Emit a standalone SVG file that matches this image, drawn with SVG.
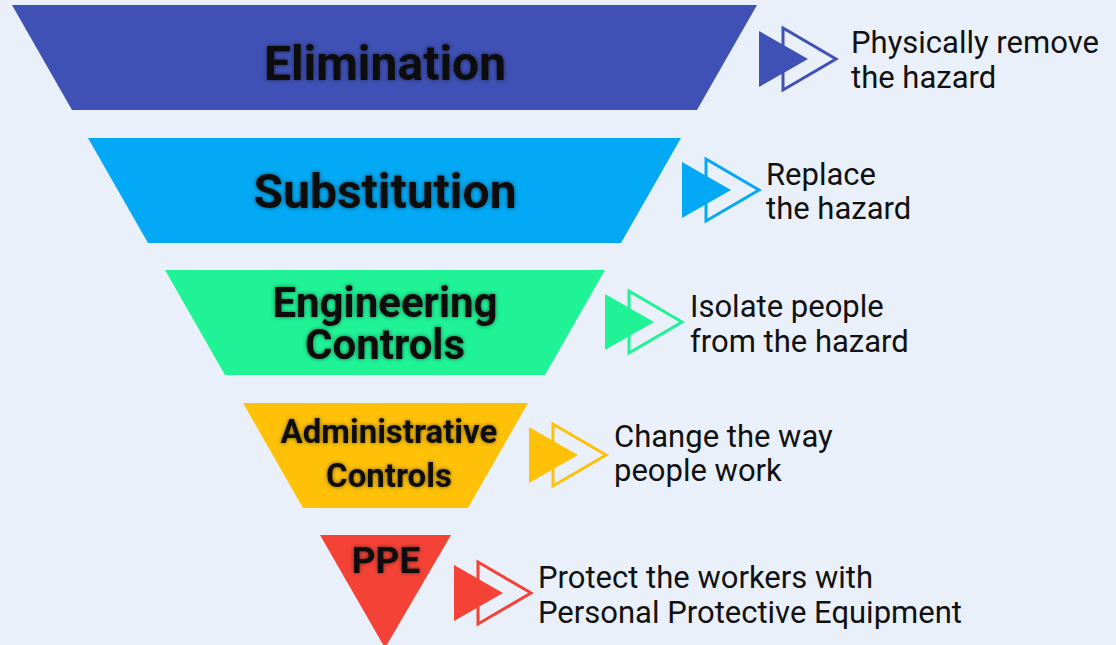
<svg xmlns="http://www.w3.org/2000/svg" width="1116" height="645" viewBox="0 0 1116 645">
  <defs>
    <filter id="glow" x="-10%" y="-30%" width="120%" height="160%">
      <feGaussianBlur in="SourceAlpha" stdDeviation="2.2" result="b"/>
      <feComponentTransfer in="b" result="s"><feFuncA type="linear" slope="0.55"/></feComponentTransfer>
      <feMerge><feMergeNode in="s"/><feMergeNode in="SourceGraphic"/></feMerge>
    </filter>
    <!-- double chevron: outlined triangle behind a solid one -->
    <g id="chev">
      <polygon points="24,-31 77,0 24,31" fill="none" stroke-width="3" stroke="currentColor"/>
      <polygon points="0,-28 49,0 0,28" fill="currentColor"/>
    </g>
  </defs>
  <style>
    .title { font-family: Roboto, "Liberation Sans", sans-serif; font-weight: 700; fill: #111; text-anchor: middle; }
    .desc { font-family: Roboto, "Liberation Sans", sans-serif; font-size: 31px; fill: #111; }
  </style>
  <rect width="1116" height="645" fill="#eaf0f9"/>

  <g id="elimination">
    <polygon points="12,5 757,5 697,110 72,110" fill="#3f51b5"/>
    <text class="title" x="385" y="80" font-size="48" filter="url(#glow)">Elimination</text>
  </g>

  <g id="substitution">
    <polygon points="88,138 681,138 621,243 148,243" fill="#03a9f4"/>
    <text class="title" x="385" y="208" font-size="48" filter="url(#glow)">Substitution</text>
  </g>

  <g id="engineering">
    <polygon points="165,270 605,270 545,375 225,375" fill="#1ff396"/>
    <text class="title" x="385" y="317" font-size="42" filter="url(#glow)">Engineering</text>
    <text class="title" x="385" y="359" font-size="42" filter="url(#glow)">Controls</text>
  </g>

  <g id="administrative">
    <polygon points="243,403 528,403 468,508 303,508" fill="#ffc107"/>
    <text class="title" x="389" y="443" font-size="33" filter="url(#glow)">Administrative</text>
    <text class="title" x="389" y="487" font-size="33" filter="url(#glow)">Controls</text>
  </g>

  <g id="ppe">
    <polygon points="320,535 451,535 385,648" fill="#f44336"/>
    <text class="title" x="386" y="573" font-size="37" filter="url(#glow)">PPE</text>
  </g>

  <g id="connectors">
    <use href="#chev" x="759" y="59" color="#3f51b5"/>
    <use href="#chev" x="682" y="190" color="#03a9f4"/>
    <use href="#chev" x="605" y="322" color="#1ff396"/>
    <use href="#chev" x="529" y="455" color="#ffc107"/>
    <use href="#chev" x="454" y="593" color="#f44336"/>
  </g>

  <g id="descriptions">
    <text class="desc" x="851" y="53">Physically remove</text>
    <text class="desc" x="851" y="88">the hazard</text>
    <text class="desc" x="766" y="185">Replace</text>
    <text class="desc" x="766" y="219">the hazard</text>
    <text class="desc" x="690" y="317">Isolate people</text>
    <text class="desc" x="690" y="352">from the hazard</text>
    <text class="desc" x="614" y="447">Change the way</text>
    <text class="desc" x="614" y="481">people work</text>
    <text class="desc" x="538" y="588">Protect the workers with</text>
    <text class="desc" x="538" y="623">Personal Protective Equipment</text>
  </g>
</svg>
